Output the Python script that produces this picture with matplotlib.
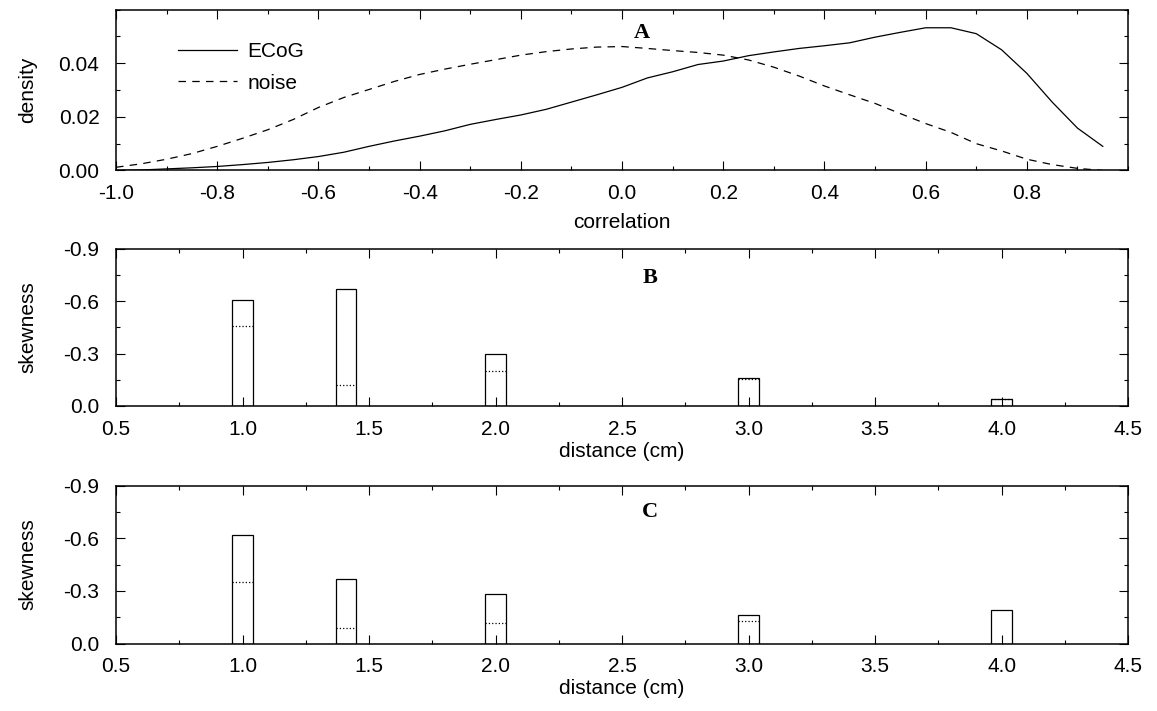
import numpy as np
import matplotlib
matplotlib.use("Agg")
import matplotlib.pyplot as plt
from matplotlib.ticker import MultipleLocator

plt.rcParams["font.family"] = ["Liberation Sans", "DejaVu Sans"]
plt.rcParams["axes.unicode_minus"] = False

# panel A: correlation densities
corr = [-1.00, -0.95, -0.90, -0.85, -0.80, -0.75, -0.70, -0.65, -0.60, -0.55,
        -0.50, -0.45, -0.40, -0.35, -0.30, -0.25, -0.20, -0.15, -0.10, -0.05,
        0.00, 0.05, 0.10, 0.15, 0.20, 0.25, 0.30, 0.35, 0.40, 0.45,
        0.50, 0.55, 0.60, 0.65, 0.70, 0.75, 0.80, 0.85, 0.90, 0.95]
ecog_density = [0.0000, 0.0002, 0.0006, 0.0010, 0.0015, 0.0022, 0.0030, 0.0040, 0.0052, 0.0068,
                0.0090, 0.0110, 0.0128, 0.0148, 0.0172, 0.0190, 0.0207, 0.0228, 0.0255, 0.0282,
                0.0310, 0.0345, 0.0368, 0.0395, 0.0408, 0.0428, 0.0442, 0.0455, 0.0465, 0.0476,
                0.0497, 0.0515, 0.0532, 0.0532, 0.0510, 0.0450, 0.0362, 0.0255, 0.0158, 0.0090]
noise_density = [0.0012, 0.0025, 0.0042, 0.0063, 0.0090, 0.0120, 0.0152, 0.0190, 0.0235, 0.0272,
                 0.0302, 0.0332, 0.0358, 0.0378, 0.0396, 0.0413, 0.0430, 0.0443, 0.0453, 0.0460,
                 0.0462, 0.0455, 0.0447, 0.0440, 0.0430, 0.0412, 0.0385, 0.0352, 0.0315, 0.0282,
                 0.0250, 0.0212, 0.0175, 0.0142, 0.0100, 0.0073, 0.0042, 0.0022, 0.0008, 0.0000]

# panels B and C: skewness vs electrode distance
distance = [1.0, 1.41, 2.0, 3.0, 4.0]
skew_b = [-0.61, -0.67, -0.30, -0.16, -0.04]
skew_b_noise = [-0.46, -0.12, -0.20, -0.155, -0.04]
skew_c = [-0.62, -0.37, -0.28, -0.16, -0.19]
skew_c_noise = [-0.35, -0.09, -0.115, -0.13, 0.0]

xticks_a = [-1.0, -0.8, -0.6, -0.4, -0.2, 0.0, 0.2, 0.4, 0.6, 0.8]
xlabels_a = ["-1.0", "-0.8", "-0.6", "-0.4", "-0.2", "0.0", "0.2", "0.4", "0.6", "0.8"]
yticks_a = [0.00, 0.02, 0.04]
ylabels_a = ["0.00", "0.02", "0.04"]
xticks_bc = [0.5, 1.0, 1.5, 2.0, 2.5, 3.0, 3.5, 4.0, 4.5]
xlabels_bc = ["0.5", "1.0", "1.5", "2.0", "2.5", "3.0", "3.5", "4.0", "4.5"]
yticks_bc = [0.0, -0.3, -0.6, -0.9]
ylabels_bc = ["0.0", "-0.3", "-0.6", "-0.9"]

FS = 15
LW = 0.9
BAR_W = 0.08

fig = plt.figure(figsize=(11.57, 7.11), dpi=100)
ax_a = fig.add_axes([0.1003, 0.7602, 0.8747, 0.2264])
ax_b = fig.add_axes([0.1003, 0.4290, 0.8747, 0.2208])
ax_c = fig.add_axes([0.1003, 0.0949, 0.8747, 0.2222])


def style_axes(ax):
    for sp in ax.spines.values():
        sp.set_linewidth(1.1)
    ax.tick_params(which="both", direction="in", top=True, right=True,
                   labelsize=FS, width=0.8)
    ax.tick_params(axis="x", which="both", pad=10)
    ax.tick_params(axis="y", which="both", pad=12)
    ax.tick_params(which="major", length=6.5)
    ax.tick_params(which="minor", length=3)


# A
ax_a.plot(corr, ecog_density, color="black", lw=LW, label="ECoG")
ax_a.plot(corr, noise_density, color="black", lw=LW, linestyle=(0, (6, 5)), label="noise")
ax_a.set_xlim(-1.0, 1.0)
ax_a.set_ylim(0.0, 0.06)
ax_a.set_xticks(xticks_a)
ax_a.set_xticklabels(xlabels_a)
ax_a.set_yticks(yticks_a)
ax_a.set_yticklabels(ylabels_a)
ax_a.xaxis.set_minor_locator(MultipleLocator(0.1))
ax_a.yaxis.set_minor_locator(MultipleLocator(0.01))
ax_a.set_xlabel("correlation", fontsize=FS, labelpad=7)
ax_a.set_ylabel("density", fontsize=FS, labelpad=15)
style_axes(ax_a)
ax_a.legend(loc="upper left", bbox_to_anchor=(0.0613, 0.798), frameon=False,
            fontsize=FS, handlelength=2.84, handletextpad=0.48, labelspacing=0.6,
            borderpad=0, borderaxespad=0)
ax_a.text(0.04, 0.0512, "A", fontsize=16, fontweight="bold",
          family="Liberation Serif", ha="center", va="center")

# B and C
for ax, skew, skew_n, letter, ly in [(ax_b, skew_b, skew_b_noise, "B", -0.734),
                                      (ax_c, skew_c, skew_c_noise, "C", -0.75)]:
    ax.bar(distance, skew, width=BAR_W, facecolor="white", edgecolor="black",
           linewidth=LW)
    ax.hlines(skew_n, [d - BAR_W / 2 for d in distance], [d + BAR_W / 2 for d in distance],
              colors="black", linestyles="dotted", linewidth=0.9)
    ax.set_xlim(0.5, 4.5)
    ax.set_ylim(0.0, -0.9)
    ax.set_xticks(xticks_bc)
    ax.set_xticklabels(xlabels_bc)
    ax.set_yticks(yticks_bc)
    ax.set_yticklabels(ylabels_bc)
    ax.xaxis.set_minor_locator(MultipleLocator(0.25))
    ax.yaxis.set_minor_locator(MultipleLocator(0.15))
    ax.set_xlabel("distance (cm)", fontsize=FS, labelpad=2)
    ax.set_ylabel("skewness", fontsize=FS, labelpad=19)
    style_axes(ax)
    ax.text(2.61, ly, letter, fontsize=16, fontweight="bold",
            family="Liberation Serif", ha="center", va="center")

fig.savefig("out.png", dpi=100)
